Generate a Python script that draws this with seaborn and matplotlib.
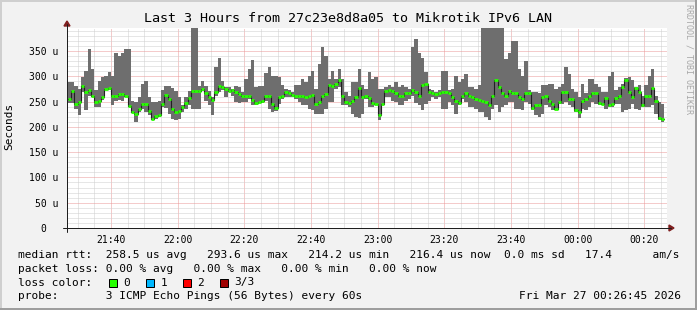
import numpy as np
import pandas as pd
import seaborn as sns
import matplotlib
matplotlib.use("Agg")
import matplotlib.pyplot as plt
from matplotlib.patches import Polygon, Rectangle
from matplotlib.lines import Line2D

# ---------------- data (microseconds, one value per minute, from 21:27) ----------------
start_minute = 27  # minutes after 21:00

median_us = [
    256, 270, 245, 250, 280, 269, 273, 262, 249, 252, 259, 274, 276, 261, 262, 264, 265, 261, 242, 230,
    225, 235, 245, 245, 232, 215, 222, 224, 246, 263,
    255, 235, 230, 232, 240, 248, 257, 270, 270, 270, 275, 266, 260, 253, 268, 280, 279, 274, 271, 273,
    268, 265, 261, 261, 261, 253, 247, 249, 251, 262,
    261, 246, 238, 259, 262, 269, 267, 263, 262, 261, 261, 260, 262, 263, 246, 249, 262, 265, 283, 280,
    285, 293, 262, 250, 247, 252, 259, 276, 259, 262,
    257, 248, 246, 223, 245, 271, 273, 271, 267, 261, 262, 266, 266, 272, 269, 262, 282, 285, 269, 266,
    264, 266, 269, 268, 266, 259, 251, 248, 262, 266,
    261, 260, 256, 254, 252, 249, 243, 262, 293, 279, 266, 261, 270, 266, 266, 259, 256, 267, 266, 238,
    243, 243, 259, 261, 252, 245, 235, 249, 269, 269,
    256, 255, 234, 230, 252, 255, 261, 266, 266, 248, 246, 257, 243, 245, 257, 261, 279, 293, 269, 259,
    277, 269, 243, 262, 262, 276, 252, 218, 216,
]
min_us = [
    248, 248, 236, 223, 268, 233, 262, 259, 240, 240, 254, 272, 272, 243, 251, 254, 251, 259, 240, 230,
    210, 230, 235, 230, 224, 213, 216, 220, 240, 237,
    225, 215, 213, 215, 230, 235, 244, 235, 235, 235, 270, 251, 244, 223, 262, 268, 272, 259, 268, 262,
    249, 248, 249, 249, 255, 244, 244, 247, 247, 251,
    236, 230, 232, 246, 256, 260, 260, 260, 256, 250, 243, 243, 236, 233, 226, 226, 226, 236, 249, 249,
    275, 278, 243, 243, 240, 226, 220, 217, 226, 256,
    240, 240, 243, 214, 243, 259, 259, 252, 249, 243, 243, 252, 256, 262, 247, 243, 233, 246, 252, 259,
    256, 259, 236, 236, 250, 243, 226, 243, 256, 250,
    240, 240, 236, 230, 230, 220, 214, 236, 243, 230, 240, 243, 249, 249, 236, 236, 233, 249, 246, 233,
    223, 220, 226, 243, 239, 233, 233, 246, 246, 249,
    243, 240, 230, 217, 236, 233, 240, 249, 246, 243, 246, 236, 240, 240, 246, 246, 230, 233, 236, 246,
    236, 233, 240, 240, 240, 243, 226, 214, 210,
]
max_us = [
    288, 288, 280, 275, 298, 311, 354, 314, 272, 291, 298, 301, 308, 301, 347, 340, 347, 353, 353, 251,
    249, 259, 285, 291, 259, 249, 249, 252, 273, 280,
    280, 277, 270, 260, 244, 260, 270, 395, 395, 280, 290, 280, 270, 260, 318, 337, 291, 278, 278, 275,
    281, 278, 268, 294, 314, 333, 278, 281, 281, 307,
    318, 301, 301, 298, 282, 275, 272, 269, 282, 282, 295, 288, 301, 311, 275, 324, 358, 340, 295, 311,
    295, 314, 295, 269, 262, 288, 288, 314, 282, 275,
    308, 295, 298, 275, 275, 278, 282, 278, 288, 278, 282, 278, 275, 357, 373, 347, 337, 308, 275, 272,
    269, 272, 311, 311, 272, 275, 301, 288, 295, 305,
    278, 279, 275, 282, 395, 395, 395, 395, 395, 395, 395, 334, 347, 370, 370, 314, 301, 331, 272, 269,
    269, 266, 282, 282, 285, 285, 275, 279, 285, 318,
    305, 275, 269, 259, 285, 266, 295, 295, 285, 279, 269, 269, 301, 308, 272, 279, 285, 296, 298, 292,
    279, 282, 262, 282, 301, 314, 262, 249, 246,
]

xtick_minutes = [40, 60, 80, 100, 120, 140, 160, 180, 200]
xtick_labels = ["21:40", "22:00", "22:20", "22:40", "23:00", "23:20", "23:40", "00:00", "00:20"]
ytick_values = [0, 50, 100, 150, 200, 250, 300, 350]
ytick_labels = ["0  ", "50 u", "100 u", "150 u", "200 u", "250 u", "300 u", "350 u"]

title = "Last 3 Hours from 27c23e8d8a05 to Mikrotik IPv6 LAN"
row1 = "median rtt:  258.5 us avg   293.6 us max   214.2 us min   216.4 us now  0.0 ms sd   17.4      am/s"
row2 = "packet loss: 0.00 % avg   0.00 % max   0.00 % min   0.00 % now"
row4_left = "probe:       3 ICMP Echo Pings (56 Bytes) every 60s"
row4_right = "Fri Mar 27 00:26:45 2026"
loss_labels = ["0", "1", "2", "3/3"]
loss_colors = ["#26ff00", "#00b8ff", "#ff0000", "#a00000"]

# ---------------- styling ----------------
sns.set_theme(style="white")
plt.rcParams["font.family"] = ["DejaVu Sans Mono"]
plt.rcParams["lines.scale_dashes"] = True

W, H = 697, 310
fig = plt.figure(figsize=(W / 100, H / 100), dpi=100, facecolor="#f2f2f2")


def fx(px):
    return px / W


def fy(py):
    return 1 - py / H


ax = fig.add_axes([fx(67), fy(228), 600 / W, 200 / H])
ax.set_facecolor("white")
for s in ax.spines.values():
    s.set_visible(False)

t = np.arange(len(median_us)) + start_minute
df = pd.DataFrame({"t": t, "median": median_us, "lo": min_us, "hi": max_us})
t_ext = np.append(df["t"].values, df["t"].values[-1] + 1)

# smoke (min..max range)
ax.fill_between(t_ext, np.append(df["lo"].values, df["lo"].values[-1]),
                np.append(df["hi"].values, df["hi"].values[-1]),
                step="post", color="#6e6e6e", linewidth=0, zorder=2)

# median step line (dark connectors)
med_ext = np.append(df["median"].values, df["median"].values[-1])
sns.lineplot(x=t_ext, y=med_ext, drawstyle="steps-post", color="#202020",
             linewidth=0.8, estimator=None, sort=False, ax=ax, zorder=3)
# loss-colored median segments
ax.hlines(df["median"], df["t"], df["t"] + 1, colors=loss_colors[0], linewidth=2.0, zorder=4)

ax.set_xlim(26.8, 206.8)
ax.set_ylim(0, 395.5)

# grid
ax.set_xticks(xtick_minutes)
ax.set_xticklabels(xtick_labels)
ax.set_xticks([m for m in np.arange(30, 207, 5) if m % 20 != 0], minor=True)
ax.set_yticks(ytick_values)
ax.set_yticklabels(ytick_labels)
ax.set_yticks([v for v in np.arange(10, 396, 10) if v % 50 != 0], minor=True)
ax.set_axisbelow(True)
ax.grid(which="minor", color="#cfcfcf", linewidth=0.72, linestyle=(0, (1, 1)))
ax.grid(which="major", color="#eb9898", linewidth=0.72, linestyle=(0, (1, 1)))
ax.tick_params(axis="both", which="major", direction="out", length=2, width=0.72,
               color="#eb9898", labelsize=7, labelcolor="black")
ax.tick_params(axis="both", which="minor", direction="out", length=2, width=0.72, color="#cfcfcf")
ax.tick_params(axis="x", which="major", pad=2.7)
ax.tick_params(axis="y", which="major", pad=4.1)
ax.set_xlabel("")
ax.set_ylabel("")

# axes lines + arrows (rrdtool style)
axis_col = "#1f1f1f"
arrow_col = "#801f1f"
fig.add_artist(Line2D([fx(63), fx(671)], [fy(228), fy(228)], color=axis_col, linewidth=0.72,
                      transform=fig.transFigure))
fig.add_artist(Line2D([fx(67), fx(67)], [fy(232), fy(24)], color=axis_col, linewidth=0.72,
                      transform=fig.transFigure))
fig.add_artist(Polygon([[fx(669), fy(225)], [fx(669), fy(231)], [fx(674), fy(228)]], closed=True,
                       color=arrow_col, transform=fig.transFigure))
fig.add_artist(Polygon([[fx(64), fy(26)], [fx(70), fy(26)], [fx(67), fy(21)]], closed=True,
                       color=arrow_col, transform=fig.transFigure))

# texts
fig.text(0.5, fy(18.5), title, ha="center", va="center", fontsize=9.6, color="black")
fig.text(fx(9.5), fy(126), "Seconds", rotation=90, ha="center", va="center", fontsize=8, color="black")
fig.text(fx(689), fy(59), "RRDTOOL / TOBI OETIKER", rotation=270, ha="center", va="center",
         fontsize=6, color="#a8a8a8")

lx = 17.5
fig.text(fx(lx), fy(255), row1, ha="left", va="center", fontsize=8, color="black")
fig.text(fx(lx), fy(268.5), row2, ha="left", va="center", fontsize=8, color="black")
fig.text(fx(lx), fy(282.5), "loss color:", ha="left", va="center", fontsize=8, color="black")
for i, (lab, col) in enumerate(zip(loss_labels, loss_colors)):
    x0 = 109 + 37 * i
    fig.add_artist(Rectangle((fx(x0), fy(286.5)), 8 / W, 8 / H, facecolor=col, edgecolor="black",
                             linewidth=0.72, transform=fig.transFigure))
    fig.text(fx(x0 + 14.5), fy(282.5), lab, ha="left", va="center", fontsize=8, color="black")
fig.text(fx(lx), fy(296), row4_left, ha="left", va="center", fontsize=8, color="black")
fig.text(fx(681), fy(296), row4_right, ha="right", va="center", fontsize=8, color="black")

# frame shading
fig.add_artist(Line2D([0, 1], [fy(0.5), fy(0.5)], color="#cfcfcf", linewidth=1.44, transform=fig.transFigure))
fig.add_artist(Line2D([fx(0.5), fx(0.5)], [0, 1], color="#cfcfcf", linewidth=1.44, transform=fig.transFigure))
fig.add_artist(Line2D([0, 1], [fy(309), fy(309)], color="#9e9e9e", linewidth=1.44, transform=fig.transFigure))
fig.add_artist(Line2D([fx(696), fx(696)], [0, 1], color="#9e9e9e", linewidth=1.44, transform=fig.transFigure))

fig.savefig("out.png", dpi=100, facecolor=fig.get_facecolor())
